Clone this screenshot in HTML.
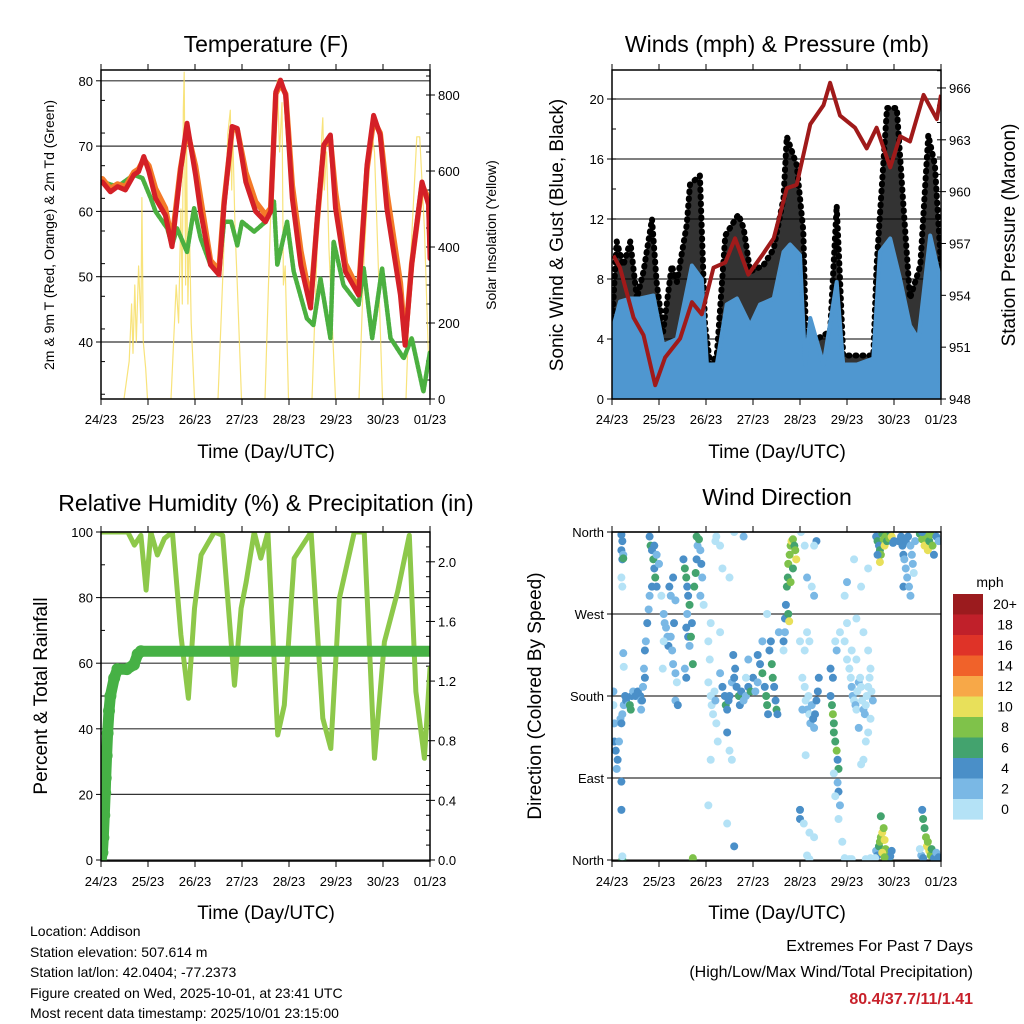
<!DOCTYPE html>
<html><head><meta charset="utf-8"><style>
html,body{margin:0;padding:0;background:#fff;}
svg{display:block;font-family:"Liberation Sans",Arial,sans-serif;}
</style></head><body>
<svg id="s" width="1024" height="1024" viewBox="0 0 1024 1024" xmlns="http://www.w3.org/2000/svg">
<g id="layer"></g>
<g fill="#000">
<text x="266" y="52" font-size="23" text-anchor="middle">Temperature (F)</text>
<text x="777" y="52" font-size="23" text-anchor="middle">Winds (mph) &amp; Pressure (mb)</text>
<text x="266" y="511" font-size="23" text-anchor="middle">Relative Humidity (%) &amp; Precipitation (in)</text>
<text x="777" y="505" font-size="23" text-anchor="middle">Wind Direction</text>
<text x="266" y="458" font-size="19" text-anchor="middle">Time (Day/UTC)</text>
<text x="777" y="458" font-size="19" text-anchor="middle">Time (Day/UTC)</text>
<text x="266" y="919" font-size="19" text-anchor="middle">Time (Day/UTC)</text>
<text x="777" y="919" font-size="19" text-anchor="middle">Time (Day/UTC)</text>
<text transform="translate(54,235) rotate(-90)" font-size="14" text-anchor="middle">2m &amp; 9m T (Red, Orange) &amp; 2m Td (Green)</text>
<text transform="translate(496,235) rotate(-90)" font-size="14" text-anchor="middle">Solar Insolation (Yellow)</text>
<text transform="translate(563,235) rotate(-90)" font-size="19" text-anchor="middle">Sonic Wind &amp; Gust (Blue, Black)</text>
<text transform="translate(1015,235) rotate(-90)" font-size="19" text-anchor="middle">Station Pressure (Maroon)</text>
<text transform="translate(47,696) rotate(-90)" font-size="19" text-anchor="middle">Percent &amp; Total Rainfall</text>
<text transform="translate(541,696) rotate(-90)" font-size="19" text-anchor="middle">Direction (Colored By Speed)</text>
<text x="990" y="587" font-size="14" text-anchor="middle">mph</text>
</g>
<g font-size="14" fill="#000">
<text x="30" y="936">Location: Addison</text>
<text x="30" y="957">Station elevation: 507.614 m</text>
<text x="30" y="977">Station lat/lon: 42.0404; -77.2373</text>
<text x="30" y="998">Figure created on Wed, 2025-10-01, at 23:41 UTC</text>
<text x="30" y="1018">Most recent data timestamp: 2025/10/01 23:15:00</text>
<text x="973" y="951" font-size="16" text-anchor="end">Extremes For Past 7 Days</text>
<text x="973" y="977" font-size="16" text-anchor="end">(High/Low/Max Wind/Total Precipitation)</text>
<text x="973" y="1004" font-size="16" font-weight="bold" fill="#c8202a" text-anchor="end">80.4/37.7/11/1.41</text>
</g>
</svg>
<script>
// ---------- data ----------
const dayLabels = ["24/23","25/23","26/23","27/23","28/23","29/23","30/23","01/23"];
const tempDays = [0.03,0.2,0.35,0.52,0.7,0.8,0.91,1.02,1.16,1.37,1.51,1.69,1.83,2.01,2.12,2.33,2.51,2.62,2.79,2.9,3.08,3.29,3.5,3.61,3.72,3.82,3.93,4.07,4.25,4.46,4.6,4.74,4.88,4.99,5.2,5.48,5.66,5.8,5.94,6.08,6.37,6.47,6.61,6.83,6.97,7.0];
const temp2m = [64.5,63.0,63.8,63.3,65.6,66.1,68.4,66.1,62.0,59.4,54.6,66.1,73.5,65.6,60.0,51.8,50.3,61.0,73.0,72.7,64.5,60.0,58.4,60.0,78.3,80.1,77.8,62.0,51.8,45.2,58.9,70.2,71.7,60.5,50.8,47.2,67.1,74.7,71.7,60.5,47.2,39.5,51.8,64.5,61.0,52.8];
const temp9m = [65,63.5,64.2,63.8,66,66.5,68,67,63.5,60.5,55.5,66.5,72.5,67,62,52.5,51,61.5,72.5,72.5,66,61.5,59.5,60.5,78,79.5,78,64,54,46,58.5,70,71,63,52,48,66.5,74,72,63,49,40,52,64,62,55];
const dewDays = [0.03,0.35,0.7,0.88,1.06,1.16,1.41,1.51,1.62,1.83,1.98,2.12,2.33,2.51,2.62,2.77,2.9,3.0,3.26,3.5,3.68,3.75,3.96,4.1,4.38,4.52,4.67,4.88,4.95,5.16,5.48,5.59,5.77,5.98,6.16,6.44,6.61,6.86,7.0];
const dewPoint = [64.5,63.8,65.6,65.1,62.0,60.0,57.4,54.8,57.4,53.8,60.5,55.9,51.8,50.8,58.4,58.4,54.8,58.4,56.9,58.4,61.5,51.8,58.4,50.8,43.6,42.6,49.7,40.6,55.4,48.7,45.7,51.3,40.6,51.3,40.6,37.5,40.6,32.4,38.5];
const solarDays = [0.49,0.6,0.65,0.68,0.72,0.75,0.8,0.85,0.87,0.9,0.95,0.99, 1.49,1.6,1.65,1.7,1.73,1.75,1.77,1.8,1.82,1.85,1.88,1.92,1.99, 2.49,2.6,2.7,2.75,2.78,2.8,2.85,2.9,2.99, 3.49,3.6,3.7,3.75,3.8,3.85,3.88,3.92,3.99, 4.49,4.6,4.7,4.72,4.75,4.8,4.85,4.92,4.99, 5.49,5.6,5.7,5.76,5.82,5.9,5.99, 6.49,6.6,6.72,6.78,6.88,6.97];
const solarVals = [0,100,250,120,300,150,350,200,530,150,80,0, 0,300,200,500,250,760,860,300,700,250,450,200,0, 0,350,700,760,550,720,450,300,0, 0,450,750,840,650,780,300,350,0, 0,400,700,740,550,650,400,200,0, 0,380,600,700,650,350,0, 0,400,690,690,450,100];
const presDays = [0.03,0.17,0.46,0.67,0.92,1.13,1.45,1.7,1.91,2.16,2.41,2.62,2.9,3.19,3.44,3.72,3.93,4.22,4.5,4.64,4.85,5.17,5.42,5.63,5.92,6.13,6.34,6.63,6.91,7.0];
const presVals = [956.3,955.6,952.7,951.7,948.8,950.4,951.5,953.6,952.9,955.6,955.9,957.3,955.2,956.3,957.3,960.2,960.4,963.9,965.0,966.3,964.4,963.7,962.5,963.7,961.4,963.2,962.9,965.6,964.2,965.6];
const sonicDays = [0,0.17,0.39,0.6,0.88,1.09,1.38,1.7,1.91,2.02,2.23,2.44,2.66,2.94,3.15,3.44,3.65,3.79,4.0,4.11,4.22,4.5,4.78,4.92,5.21,5.56,5.7,5.92,6.13,6.34,6.52,6.77,6.98];
const sonicHi = [4.5,6.5,6.7,6.7,6.9,3.6,4.0,8.9,8.0,2.3,2.3,6.3,6.7,4.9,6.3,6.7,9.8,10.3,9.6,2.3,5.4,2.3,7.8,2.3,2.3,2.7,9.8,10.7,8.0,4.9,4.0,10.9,8.0];
const gustDays = [0,0.1,0.24,0.39,0.53,0.67,0.85,0.95,1.09,1.27,1.38,1.59,1.66,1.87,1.98,2.09,2.23,2.41,2.69,2.8,2.94,3.22,3.44,3.65,3.72,3.93,4.07,4.14,4.36,4.64,4.78,4.85,4.92,5.21,5.56,5.63,5.85,6.06,6.2,6.34,6.56,6.73,6.87,7.0];
const gustHi = [4.9,10.5,8.9,10.5,6.7,8.5,12.0,7.8,4.5,8.9,7.8,11.6,14.3,14.9,4.9,2.3,2.9,10.9,12.3,11.4,8.5,8.9,10.0,13.4,17.5,15.6,11.2,2.3,4.0,4.5,12.9,8.0,2.9,2.9,2.9,8.9,19.4,19.4,12.9,6.7,8.9,17.6,15.6,8.9];
const rhDays = [0,0.57,0.71,0.85,0.96,1.06,1.2,1.35,1.52,1.7,1.86,1.99,2.13,2.41,2.59,2.73,2.84,2.98,3.09,3.26,3.4,3.55,3.76,3.9,4.11,4.47,4.72,4.89,5.07,5.39,5.6,5.82,6.03,6.31,6.56,6.7,6.88,7.0];
const rhVals = [100,100,96,99,82.3,100,93,98,100,68.6,49.3,76.7,93,100,99,73.6,53.3,76.7,84.8,100,92,100,38.1,47.2,92,100,43.2,34,79.7,100,100,31,66.5,81.8,99,51.3,31,58.4];
const precipDays = [0,0.03,0.05,0.07,0.09,0.1,0.12,0.14,0.17,0.2,0.28,0.35,0.55,0.7,0.78,0.85,7.0];
const precipVals = [0,0.05,0.15,0.3,0.45,0.55,0.7,0.85,1.0,1.1,1.22,1.28,1.28,1.31,1.38,1.40,1.40];
const dirPts = [
[0.03,185,3],[0.03,170,1],[0.05,150,2],[0.05,130,5],[0.08,120,5],[0.1,100,3],[0.12,110,5],[0.15,130,3],[0.18,155,3],[0.2,150,5],[0.22,160,3],[0.25,170,3],[0.28,180,5],[0.3,175,5],[0.35,170,3],[0.38,170,7],[0.4,165,7],[0.42,180,5],[0.45,185,3],[0.5,180,5],[0.55,185,5],[0.6,180,5],[0.62,175,3],
[0.2,357,5],[0.22,350,5],[0.2,340,5],[0.22,330,5],[0.24,335,3],[0.22,300,1],[0.2,310,1],[0.24,331,7],[0.24,227,3],[0.25,212,1],[0.2,86,5],[0.2,55,5],[0.22,0,7],[0.22,4,1],
[0.8,355,5],[0.82,345,7],[0.85,340,5],[0.88,330,7],[0.9,320,5],[0.92,310,7],[0.95,300,5],[0.85,300,5],[0.8,290,3],[0.78,275,3],[0.75,260,5],[0.72,240,3],[0.7,230,5],[0.68,210,3],[0.7,200,5],[0.66,190,3],[0.64,175,5],[0.62,165,3],[0.9,345,5],[0.95,335,3],[1.0,325,3],
[1.05,290,1],[1.1,270,3],[1.12,260,3],[1.15,255,3],[1.18,245,3],[1.2,235,5],[1.25,245,3],[1.28,230,3],[1.3,215,3],[1.35,205,3],[1.38,195,1],[1.35,175,3],[1.4,170,5],[1.32,260,5],[1.22,300,5],[1.3,310,5],[1.35,285,3],[1.25,290,3],[1.1,240,1],[1.08,210,1],
[1.52,330,5],[1.55,320,7],[1.58,310,7],[1.6,300,5],[1.62,290,5],[1.65,280,7],[1.6,270,3],[1.58,255,5],[1.62,245,5],[1.65,235,3],[1.68,245,7],[1.7,260,5],[1.75,300,7],[1.78,315,7],[1.8,330,5],[1.82,345,3],[1.85,352,7],[1.8,355,7],[1.88,340,3],[1.9,325,5],[1.92,310,3],[1.88,290,3],[1.95,280,1],[1.72,215,7],[1.55,210,3],[1.58,200,5],[1.72,0,7],[1.72,2,9],
[2.05,195,1],[2.1,180,1],[2.12,170,1],[2.15,160,1],[2.18,185,1],[2.2,175,3],[2.22,150,1],[2.08,220,1],[2.1,260,1],[2.05,240,1],[2.25,130,1],[2.1,110,1],[2.05,60,1],[2.3,205,3],[2.35,190,5],[2.4,180,5],[2.42,170,7],[2.45,165,5],[2.48,175,5],[2.5,180,5],[2.55,195,3],[2.6,200,5],[2.62,210,5],[2.58,225,5],[2.65,190,5],[2.7,180,7],[2.72,170,5],[2.75,185,5],[2.8,175,3],[2.85,180,3],[2.9,190,5],[2.95,185,7],[3.0,200,5],[2.85,200,1],[2.9,220,3],[2.45,140,5],[2.5,120,1],[2.55,110,1],[2.45,40,1],[2.6,15,5],[2.2,350,1],[2.3,345,1],[2.35,320,1],[2.3,250,1],[2.22,355,1],[2.5,310,1],[2.6,360,1],[2.8,355,3],
[3.1,225,5],[3.15,215,5],[3.2,205,7],[3.25,190,5],[3.28,180,7],[3.3,170,7],[3.32,160,5],[3.35,230,5],[3.38,240,5],[3.4,215,7],[3.42,200,7],[3.45,190,5],[3.48,175,5],[3.5,165,7],[3.52,160,5],[3.55,250,3],[3.3,270,1],[3.2,240,3],[3.1,195,3],[3.05,185,3],
[3.68,250,3],[3.68,265,5],[3.7,280,5],[3.72,300,7],[3.74,310,7],[3.75,325,9],[3.78,335,9],[3.8,345,9],[3.82,350,11],[3.85,352,9],[3.88,345,7],[3.9,340,9],[3.92,330,11],[3.85,320,7],[3.8,305,9],[3.75,270,7],[3.77,262,11],[3.65,230,1],[3.65,240,5],
[4.05,200,1],[4.1,190,1],[4.12,175,1],[4.15,165,3],[4.18,180,1],[4.2,160,1],[4.22,150,3],[4.25,170,3],[4.28,155,5],[4.3,145,3],[4.32,160,5],[4.35,175,5],[4.38,185,5],[4.4,200,5],[4.1,230,1],[4.15,250,1],[4.2,240,1],[4.05,165,3],[4.0,240,1],[4.15,310,3],[4.25,300,1],[4.3,290,3],[4.35,350,5],[4.3,345,1],[4.1,345,1],[4.02,360,1],[4.0,55,5],[4.0,45,5],[4.08,40,1],[4.2,30,1],[4.3,25,1],[4.12,115,1],[4.15,5,1],[4.2,1,1],
[4.65,180,5],[4.68,170,7],[4.7,160,9],[4.72,150,7],[4.72,140,7],[4.75,130,7],[4.78,120,9],[4.8,110,5],[4.82,100,7],[4.8,85,3],[4.82,75,5],[4.85,60,3],[4.82,45,1],[4.75,70,1],[4.72,95,1],[4.7,200,5],[4.65,210,5],[4.78,230,3],[4.75,240,1],[4.85,250,1],
[4.95,240,1],[5.0,220,1],[5.05,210,1],[5.08,200,1],[5.1,190,3],[5.12,180,3],[5.15,175,1],[5.18,170,3],[5.2,165,1],[5.22,185,1],[5.25,195,3],[5.28,200,1],[5.3,190,1],[5.32,175,1],[5.35,165,3],[5.38,160,3],[5.4,170,1],[5.42,180,1],[5.45,190,1],[5.48,200,1],[5.5,210,1],[5.52,185,1],[5.55,175,3],[5.5,155,1],[5.45,140,1],[5.4,130,1],[5.35,110,1],[5.3,105,1],[5.25,145,3],[5.2,220,1],[5.1,230,1],[5.0,260,1],[5.15,330,1],[5.3,300,1],[5.2,265,1],[5.35,250,1],[5.45,230,1],[4.95,290,1],[5.0,305,3],[4.9,20,1],[4.95,2,1],[5.05,1,1],[5.1,1,1],[5.4,1,1],[5.5,2,1],[5.45,320,1],
[5.62,355,5],[5.65,350,7],[5.68,345,5],[5.7,340,7],[5.72,335,9],[5.75,358,7],[5.78,352,9],[5.8,345,11],[5.82,355,9],[5.85,350,7],[5.88,358,9],[5.9,353,9],[5.92,360,7],[5.95,355,11],[5.98,348,5],[6.0,350,5],[5.7,327,11],[5.65,335,5],
[5.62,10,3],[5.65,5,5],[5.68,15,7],[5.7,20,9],[5.72,25,9],[5.75,30,11],[5.78,35,9],[5.8,22,11],[5.82,12,9],[5.85,5,11],[5.88,8,9],[5.9,2,7],[5.92,4,5],[5.95,10,5],[5.72,48,7],[5.75,8,11],[5.8,3,9],[5.6,2,1],
[6.15,355,5],[6.18,345,5],[6.2,335,5],[6.22,330,3],[6.25,320,3],[6.28,310,3],[6.2,300,5],[6.25,350,5],[6.3,355,5],[6.35,345,3],[6.38,335,3],[6.4,325,3],[6.42,315,1],[6.32,300,3],[6.35,290,3],[6.1,350,5],[6.45,350,3],
[6.55,358,7],[6.6,352,9],[6.65,345,11],[6.68,355,9],[6.72,340,11],[6.75,350,7],[6.78,357,9],[6.82,345,9],[6.85,335,5],[6.9,355,5],[6.95,350,3],[6.6,360,5],
[6.6,55,5],[6.62,45,7],[6.65,35,7],[6.68,25,9],[6.7,15,11],[6.72,20,9],[6.75,10,11],[6.78,5,9],[6.8,12,7],[6.85,2,5],[6.9,8,3],[6.95,3,5],[6.58,5,3],[6.62,2,5],[6.55,12,1]
];
const speedLabels = ["20+","18","16","14","12","10","8","6","4","2","0"];
const speedColors = ["#9b1b1e","#c0202a","#df3328","#f0622a","#f7a848","#e8e05a","#7fc24a","#43a36e","#4a8fc8","#7ab8e5","#b4e2f6"];
const dirLabels = ["North","East","South","West","North"];
const tempTicks = [40,50,60,70,80];
const solarTicks = [0,200,400,600,800];
const windTicks = [0,4,8,12,16,20];
const presTicks = [948,951,954,957,960,963,966];
const rhTicks = [0,20,40,60,80,100];
const precipTicks = ["0.0","0.4","0.8","1.2","1.6","2.0"];

// ---------- axis functions ----------
const xL = d => 101 + d * 47;
const xR = d => 612 + d * 47;
const yTemp = t => 342 - (t - 40) * 6.53;
const ySolar = s => 399 - s * 0.38;
const yWind = v => 399 - v * 15;
const yPres = p => 399 - (p - 948) * 17.28;
const yRH = r => 860 - r * 3.28;
const yPrecip = p => 860 - p * 149.1;
const yDir = d => 860 - d / 360 * 328;

const NS = "http://www.w3.org/2000/svg";
const layer = document.getElementById("layer");
function mk(tag, attrs, parent) {
  const e = document.createElementNS(NS, tag);
  for (const k in attrs) e.setAttribute(k, attrs[k]);
  (parent || layer).appendChild(e);
  return e;
}
function pathD(xs, ys, fx, fy) {
  return xs.map((d, i) => (i ? "L" : "M") + fx(d).toFixed(1) + " " + fy(ys[i]).toFixed(1)).join(" ");
}
function clipFor(id, x, y, w, h) {
  const cp = mk("clipPath", {id: id});
  const r = mk("rect", {x: x, y: y, width: w, height: h}, cp);
  
  
  return cp;
}

// ---------- frames & ticks ----------
function frame(x0, y0, name, leftVals, leftFn, leftLbl, rightVals, rightFn, rightLbl, minorL, minorR) {
  const g = mk("g", {});
  
  
  leftVals.forEach(v => {
    const y = leftFn(v);
    const gl = mk("line", {x1: x0, x2: x0 + 329, y1: y, y2: y, stroke: "#333", "stroke-width": 1.2}, g);
    
    
  });
  leftVals.forEach((v, i) => {
    const y = leftFn(v);
    const t = mk("text", {x: x0 - 8, y: y + 5, "font-size": 13, "text-anchor": "end"}, g);
    t.textContent = leftLbl[i];
    
    
    const tk = mk("line", {x1: x0 - 5, x2: x0, y1: y, y2: y, stroke: "#000"}, g);
    
    
  });
  minorL.forEach(y => {
    const tk = mk("line", {x1: x0, x2: x0 + 4, y1: y, y2: y, stroke: "#000"}, g);
    
    
  });
  if (rightVals) {
    rightVals.forEach((v, i) => {
      const y = rightFn(v);
      const t = mk("text", {x: x0 + 337, y: y + 5, "font-size": 13}, g);
      t.textContent = rightLbl[i];
      
      
      const tk = mk("line", {x1: x0 + 329, x2: x0 + 334, y1: y, y2: y, stroke: "#000"}, g);
      
      
    });
    minorR.forEach(y => {
      const tk = mk("line", {x1: x0 + 325, x2: x0 + 329, y1: y, y2: y, stroke: "#000"}, g);
      
      
    });
  }
  dayLabels.forEach((lb, i) => {
    const x = x0 + i * 47;
    const b = mk("line", {x1: x, x2: x, y1: y0 + 329, y2: y0 + 335, stroke: "#000"}, g);
    
    
    const tp = mk("line", {x1: x, x2: x, y1: y0 - 6, y2: y0, stroke: "#000"}, g);
    
    
    const t = mk("text", {x: x, y: y0 + 354, "font-size": 13, "text-anchor": "middle"}, g);
    t.textContent = lb;
    
    
  });
  return g;
}
function borderBox(x0, y0) {
  const r = mk("rect", {x: x0, y: y0, width: 329, height: 329, fill: "none", stroke: "#000", "stroke-width": 1.5});
  
  
}
const range = (a, b, s) => { const o = []; for (let v = a; v <= b + 1e-9; v += s) o.push(v); return o; };

clipFor("c1", 101, 70, 329, 329);
clipFor("c2", 612, 70, 329, 329);
clipFor("c3", 101, 532, 329, 329);
clipFor("c4", 612, 532, 329, 329);

// ---------- panel 1: temperature ----------
frame(101, 70, "temperature-axes", tempTicks, yTemp, tempTicks.map(String), solarTicks, ySolar, solarTicks.map(String),
  range(32, 82, 5).map(yTemp).filter(y => y > 70 && y < 399), range(50, 850, 50).map(ySolar).filter(y => y > 70 && y < 399));
const g1 = mk("g", {"clip-path": "url(#c1)", fill: "none", "stroke-linejoin": "round", "stroke-linecap": "round"});


const solar = mk("path", {d: pathD(solarDays, solarVals, xL, ySolar), stroke: "#f6dc5a", "stroke-width": 1.2, "stroke-opacity": 0.8}, g1);


const dew = mk("path", {d: pathD(dewDays, dewPoint, xL, yTemp), stroke: "#4bb040", "stroke-width": 4.5, "stroke-dasharray": "3 1.5"}, g1);


const t9 = mk("path", {d: pathD(tempDays, temp9m, xL, yTemp), stroke: "#f47a28", "stroke-width": 5.5}, g1);


const t2 = mk("path", {d: pathD(tempDays, temp2m, xL, yTemp), stroke: "#d42027", "stroke-width": 5}, g1);


borderBox(101, 70);

// ---------- panel 2: winds ----------
frame(612, 70, "winds-axes", windTicks, yWind, windTicks.map(String), presTicks, yPres, presTicks.map(String),
  range(0, 22, 2).map(yWind).filter(y => y > 70 && y < 399), range(948, 967, 1).map(yPres).filter(y => y > 70 && y < 399));
const g2 = mk("g", {"clip-path": "url(#c2)", "stroke-linejoin": "round"});


let gd = pathD(gustDays, gustHi, xR, yWind) + " L" + xR(7) + " " + yWind(0) + " L" + xR(0) + " " + yWind(0) + " Z";
const gust = mk("path", {d: gd, fill: "#000", "fill-opacity": 0.8}, g2);


const gustEdge = mk("path", {d: pathD(gustDays, gustHi, xR, yWind), fill: "none", stroke: "#000", "stroke-width": 6, "stroke-dasharray": "1 6", "stroke-linecap": "round"}, g2);


let sd = pathD(sonicDays, sonicHi, xR, yWind) + " L" + xR(7) + " " + yWind(0) + " L" + xR(0) + " " + yWind(0) + " Z";
const sonic = mk("path", {d: sd, fill: "#4f97d0", stroke: "#4f97d0", "stroke-width": 4}, g2);


const pres = mk("path", {d: pathD(presDays, presVals, xR, yPres), fill: "none", stroke: "#a01a1a", "stroke-width": 4}, g2);


borderBox(612, 70);

// ---------- panel 3: RH ----------
frame(101, 532, "humidity-axes", rhTicks, yRH, rhTicks.map(String), precipTicks.map(Number), yPrecip, precipTicks,
  range(10, 90, 20).map(yRH), range(0.1, 2.2, 0.1).map(yPrecip).filter(y => y > 532 && y < 860));
const g3 = mk("g", {"clip-path": "url(#c3)", fill: "none", "stroke-linejoin": "round", "stroke-linecap": "round"});


const rh = mk("path", {d: pathD(rhDays, rhVals, xL, yRH), stroke: "#8dc84a", "stroke-width": 5}, g3);


const pr = mk("path", {d: pathD(precipDays, precipVals, xL, yPrecip), stroke: "#46b145", "stroke-width": 11}, g3);


precipDays.forEach((d, i) => {
  if (d > 1) return;
  const c = mk("circle", {cx: xL(d), cy: yPrecip(precipVals[i]), r: 6, fill: "#46b145"}, g3);
  
  
});
borderBox(101, 532);

// ---------- panel 4: wind direction ----------
const dirVals = [0, 90, 180, 270, 360];
frame(612, 532, "direction-axes", dirVals, yDir, dirLabels, null, null, null, [], []);
const g4 = mk("g", {"clip-path": "url(#c4)"});


dirPts.forEach(p => {
  const idx = Math.min(10, Math.floor(p[2] / 2));
  const c = mk("circle", {cx: xR(p[0]), cy: yDir(p[1]), r: 4, fill: speedColors[10 - idx]}, g4);
  
  
});
borderBox(612, 532);

// colorbar
const cb = mk("g", {});


speedColors.forEach((col, i) => {
  const r = mk("rect", {x: 953, y: 594 + i * 20.5, width: 30, height: 20.6, fill: col}, cb);
  
  
  const t = mk("text", {x: 1005, y: 609 + i * 20.5, "font-size": 14, "text-anchor": "middle"}, cb);
  t.textContent = speedLabels[i];
  
  
});
</script>
</body></html>
